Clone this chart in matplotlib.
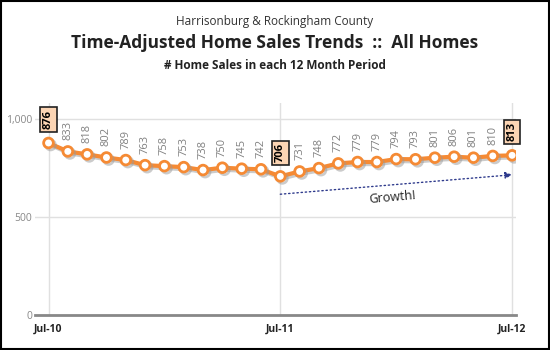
import matplotlib.pyplot as plt
import matplotlib.patheffects as pe

months = ["Jul-10", "Aug-10", "Sep-10", "Oct-10", "Nov-10", "Dec-10", "Jan-11", "Feb-11",
          "Mar-11", "Apr-11", "May-11", "Jun-11", "Jul-11", "Aug-11", "Sep-11", "Oct-11",
          "Nov-11", "Dec-11", "Jan-12", "Feb-12", "Mar-12", "Apr-12", "May-12", "Jun-12", "Jul-12"]
sales = [876, 833, 818, 802, 789, 763, 758, 753, 738, 750, 745, 742, 706,
         731, 748, 772, 779, 779, 794, 793, 801, 806, 801, 810, 813]
boxed = [0, 12, 24]
tick_idx = [0, 12, 24]
growth_start = 615
growth_end = 714

plt.rcParams['font.family'] = ['Open Sans', 'DejaVu Sans']

fig = plt.figure(figsize=(5.5, 3.5), dpi=100)
ax = fig.add_axes([0.0636, 0.1, 0.8745, 0.606])

x = list(range(len(sales)))
orange = '#F58A34'
ax.plot(x, sales, color=orange, lw=3, marker='o', ms=7, mfc='white', mec=orange, mew=2,
        zorder=4, path_effects=[pe.SimpleLineShadow(offset=(1.5, -1.5), shadow_color='#999999', alpha=0.5),
                                pe.Normal()])

for i, v in enumerate(sales):
    if i in boxed:
        ax.annotate(str(v), (i, v), xytext=(0, 10), textcoords='offset points', rotation=90,
                    ha='center', va='bottom', fontsize=8, fontweight='bold', color='black',
                    bbox=dict(boxstyle='square,pad=0.25', fc='#FCD5B4', ec='#222222', lw=1.2), zorder=6)
    else:
        ax.annotate(str(v), (i, v), xytext=(0, 8), textcoords='offset points', rotation=90,
                    ha='center', va='bottom', fontsize=8, color='#808080', zorder=5)

ax.annotate('', xy=(24, growth_end), xytext=(12, growth_start),
            arrowprops=dict(arrowstyle='-|>', color='#2E3A8C', lw=1, ls=(0, (1, 2)),
                            mutation_scale=10, shrinkA=0, shrinkB=0), zorder=3)
ax.text(17.8, 598, 'Growth!', rotation=5, ha='center', va='center', fontsize=9, color='#222222')

ax.set_xlim(-0.7, 24.2)
ax.set_ylim(0, 1080)
ax.set_yticks([0, 500, 1000])
ax.set_yticklabels(['0', '500', '1,000'])
ax.set_xticks(tick_idx)
ax.set_xticklabels([months[i] for i in tick_idx], fontweight='bold', fontsize=7.5, color='#222222')
ax.tick_params(axis='y', length=0, labelsize=7.5, labelcolor='#888888', pad=2)
ax.tick_params(axis='x', length=0, pad=6)
ax.grid(True, color='#E0E0E0', lw=1)
ax.set_axisbelow(True)
for s in ['top', 'right', 'left']:
    ax.spines[s].set_visible(False)
ax.spines['bottom'].set_color('#888888')
ax.spines['bottom'].set_linewidth(2)

fig.text(0.5, 0.94, 'Harrisonburg & Rockingham County', ha='center', va='center', fontsize=8.5, color='#333333')
fig.text(0.5, 0.877, 'Time-Adjusted Home Sales Trends  ::  All Homes', ha='center', va='center',
         fontsize=12.5, fontweight='bold', color='#222222')
fig.text(0.5, 0.814, '# Home Sales in each 12 Month Period', ha='center', va='center',
         fontsize=8.5, fontweight='bold', color='#222222')

fig.patches.append(plt.Rectangle((0.002, 0.003), 0.996, 0.994, transform=fig.transFigure,
                                 fill=False, ec='black', lw=1.5))

fig.savefig('out.png', dpi=100)
